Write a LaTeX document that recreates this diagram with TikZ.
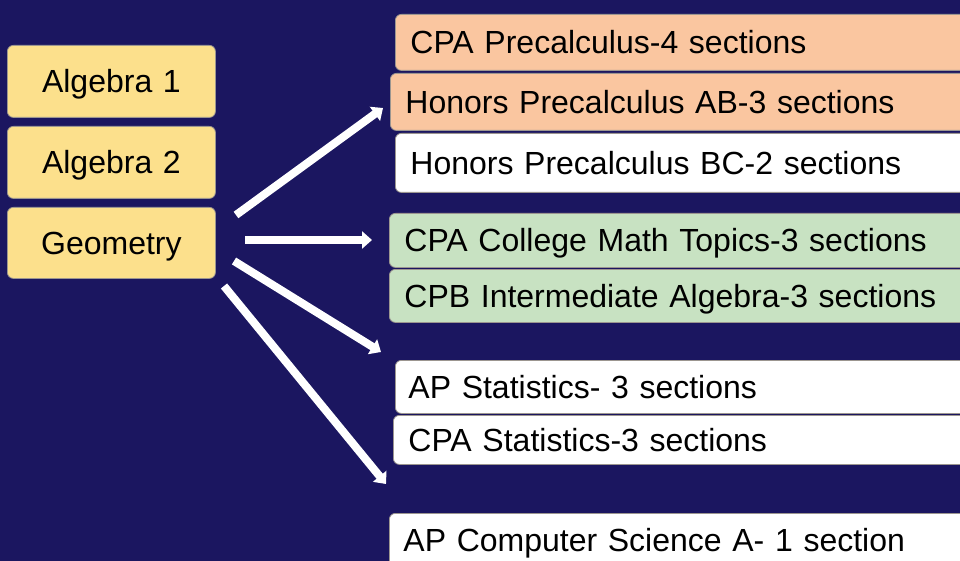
\documentclass[tikz,border=0pt]{standalone}
\usepackage{fontspec}
\setmainfont{Liberation Sans}
\usetikzlibrary{arrows.meta}
\definecolor{bgnavy}{RGB}{27,22,96}
\definecolor{yel}{RGB}{252,224,140}
\definecolor{peach}{RGB}{250,198,160}
\definecolor{mint}{RGB}{200,226,194}
\definecolor{edgedark}{RGB}{90,80,70}
\tikzset{
  box/.style={draw=edgedark!60, line width=0.8pt, rounded corners=6pt, anchor=north west,
    font=\fontsize{32}{36}\selectfont, text height=23pt, text depth=0pt, inner ysep=0pt},
  leftbox/.style={box, fill=yel, minimum width=208pt, text width=178pt, inner xsep=15pt, align=center},
  rightbox/.style={box, text width=560pt, inner xsep=15pt, align=left},
  arr/.style={draw=white, line width=8pt, -{Triangle[length=10pt,width=17pt]}, shorten >=0pt}
}
\begin{document}
\begin{tikzpicture}[x=1pt,y=-1pt]
\useasboundingbox (0,0) rectangle (960,561);
\clip (0,0) rectangle (960,561);
\fill[bgnavy] (0,0) rectangle (960,561);
% left boxes
\node[leftbox, minimum height=72pt] (alg1) at (7,45) {Algebra 1};
\node[leftbox, minimum height=72pt] (alg2) at (7,126) {Algebra 2};
\node[leftbox, minimum height=71pt] (geo) at (7,207) {Geometry};
% right boxes
\node[rightbox, fill=peach, minimum height=56pt] (cpapre) at (395,14) {CPA Precalculus-4 sections};
\node[rightbox, fill=peach, minimum height=57pt] (honab) at (390,73) {Honors Precalculus AB-3 sections};
\node[rightbox, fill=white, minimum height=59pt] (honbc) at (395,133) {Honors Precalculus BC-2 sections};
\node[rightbox, fill=mint, minimum height=54pt] (cpacol) at (389,213) {CPA College Math Topics-3 sections};
\node[rightbox, fill=mint, minimum height=53pt] (cpbint) at (389,269) {CPB Intermediate Algebra-3 sections};
\node[rightbox, fill=white, minimum height=53pt, inner xsep=13pt] (apstat) at (395,360) {AP Statistics- 3 sections};
\node[rightbox, fill=white, minimum height=49pt] (cpastat) at (393,415) {CPA Statistics-3 sections};
\node[rightbox, fill=white, minimum height=53pt, inner xsep=14pt] (apcs) at (389,513) {AP Computer Science A- 1 section};
% arrow endpoints
\coordinate (s1) at (236,215);
\coordinate (e1) at (383,108);
\coordinate (s2) at (245,240);
\coordinate (e2) at (372,240);
\coordinate (s3) at (234,261);
\coordinate (e3) at (381,352);
\coordinate (s4) at (224,286);
\coordinate (e4) at (386,484);
\draw[arr] (s1) -- (e1);
\draw[arr] (s2) -- (e2);
\draw[arr] (s3) -- (e3);
\draw[arr] (s4) -- (e4);
\end{tikzpicture}
\end{document}
